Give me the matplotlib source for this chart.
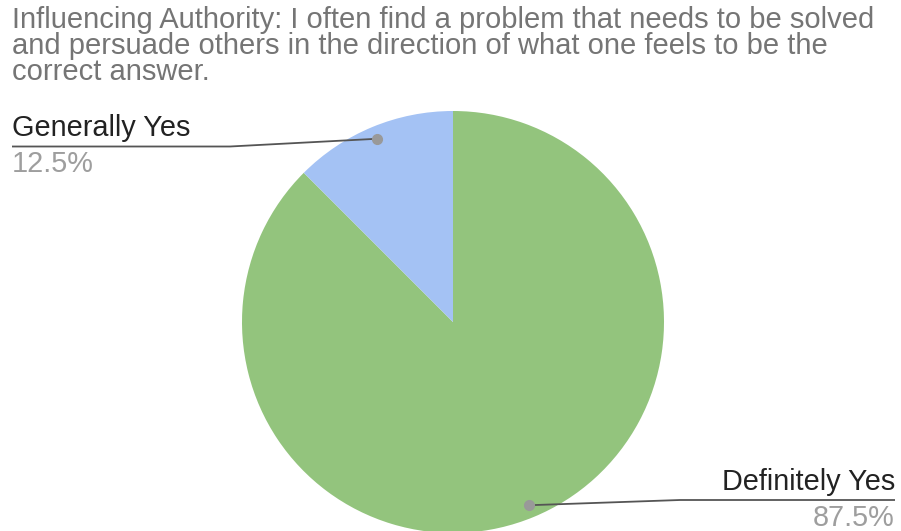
import matplotlib.pyplot as plt
import numpy as np

plt.rcParams['font.family'] = ['Liberation Sans', 'DejaVu Sans']

title = ("Influencing Authority: I often find a problem that needs to be solved\n"
         "and persuade others in the direction of what one feels to be the\n"
         "correct answer.")
labels = ["Definitely Yes", "Generally Yes"]
values = [87.5, 12.5]
colors = ["#93c47d", "#a4c2f4"]

W, H = 901, 531
fig = plt.figure(figsize=(W / 100, H / 100), dpi=100)
ax = fig.add_axes([0, 0, 1, 1])

cx, cy, r = 453, H - 322, 211
wedges, _ = ax.pie(values, colors=colors, startangle=90, counterclock=False,
                   center=(cx, cy), radius=r, frame=True)
ax.set_xlim(0, W)
ax.set_ylim(0, H)
ax.set_aspect('equal')
ax.axis('off')

# leader lines: (bend x, end x, line y, side)
leaders = [(680, 895, H - 500, 'right'), (230, 12, H - 146.5, 'left')]
for w, lab, val, (bx, ex, ly, side) in zip(wedges, labels, values, leaders):
    mid = np.deg2rad((w.theta1 + w.theta2) / 2)
    px, py = cx + 0.94 * r * np.cos(mid), cy + 0.94 * r * np.sin(mid)
    ax.plot([px, bx, ex], [py, ly, ly], color='#555555', lw=1.3,
            solid_capstyle='butt', zorder=3)
    ax.plot(px, py, 'o', color='#999999', ms=7, zorder=4)
    ha = 'right' if side == 'right' else 'left'
    ax.text(ex, ly + 10, lab, ha=ha, va='baseline', fontsize=20.8,
            color='#222222')
    ax.text(ex, ly - 26, f"{val:.1f}%", ha=ha, va='baseline', fontsize=20.8,
            color='#9e9e9e')

# title: anchored at the baseline of its last line
ax.text(12, H - 80, title, ha='left', va='baseline', fontsize=21,
        color='#757575', linespacing=0.91)

fig.savefig('out.png', dpi=100)
